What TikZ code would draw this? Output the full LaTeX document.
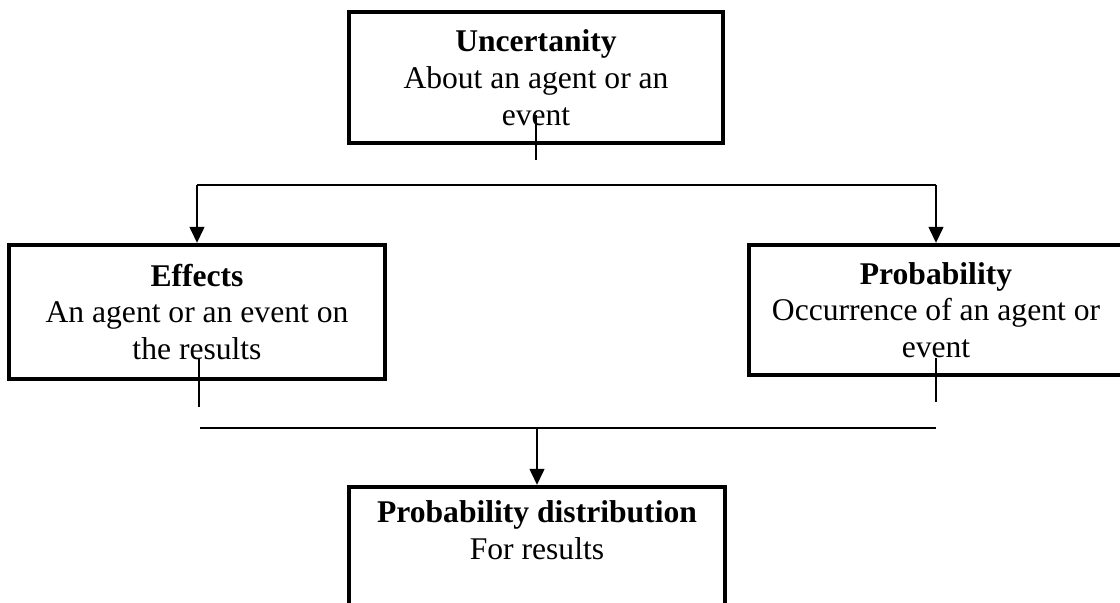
\documentclass[tikz,border=0pt]{standalone}
\usepackage{fontspec}
\setmainfont{Liberation Serif}
\usepackage{tikz}
\usetikzlibrary{positioning,arrows.meta}

\begin{document}
\begin{tikzpicture}[x=0.5pt, y=-0.5pt,
    box/.style={draw, line width=2.2pt, align=center, inner sep=2pt,
      font=\fontsize{15.8}{18.4}\selectfont},
    conn/.style={line width=0.7pt},
    arr/.style={line width=0.7pt, -{Triangle[width=7.5pt,length=8pt]}}]
  \useasboundingbox (0,0) rectangle (1120,603);

  \node[box, minimum width=187pt, minimum height=65.5pt] (unc) at (536,77.5)
    {\textbf{Uncertanity}\\About an agent or an\\event};
  \node[box, minimum width=188pt, minimum height=67pt] (eff) at (197,312)
    {\textbf{Effects}\\An agent or an event on\\the results};
  \node[box, minimum width=187pt, minimum height=65pt] (prob) at (936,310)
    {\textbf{Probability}\\Occurrence of an agent or\\event};
  \node[box, minimum width=188pt, minimum height=67pt] (dist) at (537,554)
    {\textbf{Probability distribution}\\For results\\ \strut};

  % split below uncertainty
  \coordinate (uncA) at ([yshift=15pt]unc.south);
  \coordinate (uncB) at ([yshift=-7.5pt]unc.south);
  \draw[conn] (uncA) -- (uncB);
  \coordinate (splitL) at (eff.north |- 0,185);
  \coordinate (splitR) at (prob.north |- 0,185);
  \draw[conn] (splitL) -- (splitR);
  \draw[arr] (splitL) -- (eff.north);
  \draw[arr] (splitR) -- (prob.north);

  % merge into distribution
  \coordinate (effA) at ([xshift=1pt, yshift=11.5pt]eff.south);
  \coordinate (effB) at ([xshift=1pt, yshift=-13pt]eff.south);
  \draw[conn] (effA) -- (effB);
  \coordinate (probA) at ([yshift=9.5pt]prob.south);
  \coordinate (probB) at ([yshift=-12.5pt]prob.south);
  \draw[conn] (probA) -- (probB);
  \coordinate (joinL) at (200,428);
  \coordinate (joinR) at (936,428);
  \draw[conn] (joinL) -- (joinR);
  \draw[arr] (dist.north |- joinL) -- (dist.north);
\end{tikzpicture}
\end{document}
